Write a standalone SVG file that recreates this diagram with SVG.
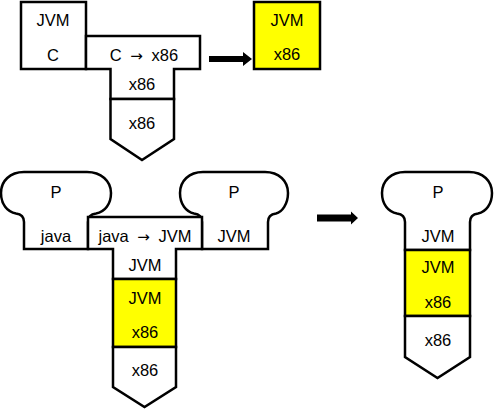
<svg xmlns="http://www.w3.org/2000/svg" width="494" height="410" viewBox="0 0 494 410">
<style>
.s{fill:#fff;stroke:#000;stroke-width:2.5;stroke-linejoin:miter}
.y{fill:#ffff00;stroke:#000;stroke-width:2.5}
text{font-family:"Liberation Sans",Arial,sans-serif;font-size:16.5px;text-anchor:middle;fill:#000}
.w{word-spacing:4px}
.ar{font-family:"DejaVu Sans",sans-serif;font-size:15px}
.a{fill:#000}
</style>
<rect width="494" height="410" fill="#fff"/>
<g id="top-c-jvm">
<rect class="s" x="21" y="2" width="65" height="67"/>
<text x="53" y="26">JVM</text>
<text x="53" y="61">C</text>
</g>
<g id="top-compiler">
<path class="s" d="M86,36 H200 V69 H174 V99 H110.5 V69 H86 Z"/>
<text class="w" x="144" y="61">C <tspan class="ar">→</tspan> x86</text>
<text x="142" y="90">x86</text>
</g>
<g id="top-machine">
<path class="s" d="M110.5,99 H174 V139 L142,160 L110.5,139 Z"/>
<text x="142" y="129">x86</text>
</g>
<g id="top-result">
<rect class="y" x="254" y="2" width="66" height="67"/>
<text x="287" y="26">JVM</text>
<text x="287" y="60">x86</text>
</g>
<g id="bottom-left-p">
<path class="s" d="M24,249 V222 C24,216 20,214 16,213.5 C7,212 1,204 1,193 C1,181 10,172 24,172 H87 C101,172 111,181 111,193 C111,204 105,212 96,213.5 C92,214 88,216 88,222 V249 Z"/>
<text x="56" y="198">P</text>
<text x="56" y="242">java</text>
</g>
<g id="bottom-right-p">
<path class="s" d="M202,249 V222 C202,216 198,214 194,213.5 C186,212 180,204 180,193 C180,181 189,172 203,172 H265 C279,172 288,181 288,193 C288,204 282,212 276,213.5 C272,214 268,216 268,222 V249 Z"/>
<text x="234" y="198">P</text>
<text x="234" y="242">JVM</text>
</g>
<g id="bottom-compiler">
<path class="s" d="M88,217 H202 V249 H176 V279 H113 V249 H88 Z"/>
<text class="w" x="145" y="242">java <tspan class="ar">→</tspan> JVM</text>
<text x="145" y="271">JVM</text>
</g>
<g id="bottom-interpreter">
<rect class="y" x="113" y="279" width="63" height="68"/>
<text x="145" y="304">JVM</text>
<text x="145" y="338">x86</text>
</g>
<g id="bottom-machine">
<path class="s" d="M113,347 H176 V387 L144.5,407 L113,387 Z"/>
<text x="145" y="376">x86</text>
</g>
<g id="result-p">
<path class="s" d="M405,250 V222 C405,216 401,214 397,213.5 C388,212 382,204 382,193 C382,181 391,172 405,172 H469 C483,172 492,181 492,193 C492,204 486,212 478,213.5 C474,214 470,216 470,222 V250 Z"/>
<text x="438" y="198">P</text>
<text x="438" y="242">JVM</text>
</g>
<g id="result-interpreter">
<rect class="y" x="405" y="250" width="65" height="66"/>
<text x="438" y="273">JVM</text>
<text x="438" y="308">x86</text>
</g>
<g id="result-machine">
<path class="s" d="M405,316 H470 V357 L437.5,378 L405,357 Z"/>
<text x="438" y="346">x86</text>
</g>
<g id="connectors">
<path class="a" d="M209,56 H243 V52 L252,59 L243,66 V62 H209 Z"/>
<path class="a" d="M317,214.5 H351 V211.5 L358,218 L351,224.5 V221.5 H317 Z"/>
</g>
</svg>
